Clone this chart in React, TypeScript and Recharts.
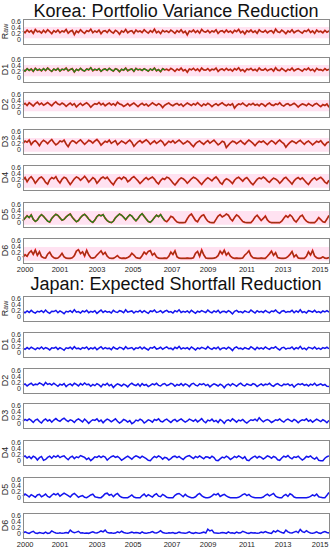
import React from "react";
import { LineChart, Line, XAxis, YAxis, ReferenceArea } from "recharts";

// values are in hundredths (0.28 -> 28)
const koreaRaw = [30,24,33,26,31,22,35,27,29,23,32,25,34,28,21,31,26,33,24,30,27,35,23,29,32,18,30,25,34,27,22,31,28,36,24,30,26,33,21,29,31,25,34,27,23,32,28,19,30,26,35,24,29,31,22,33,27,30,25,34,28,23,31,26,36,24,29,21,32,27,30,25,33,28,22,31,26,34,24,29,17,30,27,33,25,31,23,35,28,26,32,24,30,27,34,22,29,31,25,33,26,30,23,32,28,35,24,29,20,31,27,33,25,30,22,34,28,26,32,24,29,31,23,36,27,25,33,28,21,30,26,34,24,29,32,27,23,31,28,35,25,30,22,33,27,29,24,32,26,30];
const koreaD1 = [28,23,31,25,30,22,32,26,29,24,31,25,33,27,22,30,26,32,23,29,27,33,24,28,31,20,29,25,32,26,23,30,27,34,24,29,26,31,22,28,30,25,32,27,23,31,28,21,29,26,33,24,28,30,22,32,27,29,25,31,27,23,30,26,33,24,28,21,31,27,29,25,32,28,22,30,26,33,24,28,19,30,27,32,25,30,23,33,27,26,31,24,29,27,33,22,28,30,25,32,26,29,23,31,27,34,24,28,21,30,27,32,25,29,23,33,27,26,31,24,28,30,23,34,26,25,32,27,22,29,26,33,24,28,31,27,23,30,27,33,25,29,22,32,27,28,24,31,26,29];
const koreaD2 = [27,32,25,34,29,23,31,36,28,33,26,30,35,29,24,32,37,30,27,33,29,22,28,33,26,31,20,27,32,25,30,34,28,19,26,31,29,35,27,32,24,29,33,27,31,25,36,30,28,22,26,31,24,29,33,27,21,28,32,26,30,23,28,34,29,25,31,27,18,26,30,33,27,24,29,32,26,30,22,28,33,29,25,31,27,34,28,23,30,26,32,28,21,27,31,25,30,34,28,24,29,26,31,16,25,30,28,33,27,23,30,27,32,26,29,24,31,28,22,29,33,27,25,30,28,34,26,23,29,31,25,28,32,27,20,26,30,28,24,31,27,23,29,32,26,21,28,25,30,19];
const koreaD3 = [22,30,26,33,18,27,31,24,14,26,32,28,21,29,35,25,17,22,30,27,33,20,11,24,31,28,22,29,34,26,19,25,32,29,23,30,35,27,16,23,29,26,33,22,27,31,18,24,30,26,21,28,33,25,12,20,27,31,24,29,34,28,19,25,30,22,27,32,26,15,22,29,25,31,23,28,33,27,20,24,30,26,18,11,21,27,30,24,19,26,31,23,28,33,25,17,22,29,26,8,16,24,29,27,21,26,31,24,19,27,33,28,22,14,23,29,26,30,24,18,25,31,27,20,28,33,26,21,9,18,25,30,27,22,28,32,25,19,26,30,24,17,23,29,26,31,22,15,24,27];
const koreaD4 = [20,28,14,25,31,22,9,18,27,30,23,12,6,21,28,24,31,18,10,22,29,26,15,5,14,24,30,27,19,25,32,24,13,20,28,23,9,17,26,30,24,29,20,11,4,16,25,28,22,30,26,14,19,27,31,24,17,8,15,23,28,21,26,30,23,13,7,18,25,22,29,27,19,10,3,12,21,27,24,18,9,16,24,29,26,20,12,5,14,22,27,23,17,25,30,22,11,6,18,24,21,15,8,19,26,29,23,16,24,28,20,10,4,13,22,27,24,30,25,17,12,20,26,23,18,9,16,25,29,21,14,6,17,24,28,22,27,19,11,5,15,23,27,20,25,29,22,13,8,19];
const koreaD5 = [8,16,24,18,27,12,5,10,21,28,22,14,6,3,15,23,29,25,17,9,12,20,26,30,19,11,4,8,18,25,29,22,13,6,2,10,21,27,24,28,16,8,3,1,6,17,24,30,26,19,11,20,27,23,14,7,15,25,31,22,13,5,2,9,18,26,21,28,17,8,4,12,22,19,10,3,1,1,1,2,14,25,30,19,8,4,16,24,27,15,6,2,1,1,12,23,28,20,24,30,26,14,7,18,27,22,13,5,2,1,1,1,9,20,26,17,8,15,23,10,3,1,1,1,1,1,6,16,24,19,27,21,9,3,12,22,26,14,6,2,1,1,1,8,18,11,4,2,13,25];
const koreaD6 = [6,14,9,21,27,15,30,12,24,8,4,3,16,23,10,4,2,3,9,19,7,3,2,2,4,11,26,31,18,24,10,29,14,4,3,5,13,20,27,15,22,9,3,2,2,6,11,4,2,3,2,5,9,19,13,5,3,2,11,23,16,25,28,13,19,7,3,2,2,3,2,9,23,15,27,7,3,2,2,2,3,2,2,4,19,25,9,30,14,3,2,2,2,3,5,11,26,17,29,13,21,9,4,2,3,2,2,3,13,19,27,11,4,3,2,2,3,2,2,9,17,26,12,21,5,3,2,2,3,8,15,25,7,14,3,2,2,2,9,24,13,28,10,4,2,3,7,3,2,5];

const japanRaw = [18,14,20,15,22,16,13,19,17,21,15,23,16,12,19,18,22,14,20,16,11,19,17,21,15,24,16,18,13,20,17,22,14,19,16,21,12,18,23,15,20,16,18,13,22,17,15,21,19,14,24,16,18,20,13,19,17,22,15,21,16,12,20,18,23,15,17,21,14,19,22,16,18,13,21,17,24,15,19,16,20,14,22,17,12,19,16,21,18,15,23,17,14,20,16,22,13,18,19,15,21,17,10,19,22,16,18,14,20,17,15,23,18,13,21,16,19,15,22,17,14,20,18,23,16,12,19,21,15,18,17,22,14,20,16,24,15,18,13,21,19,16,22,15,18,14,20,17,21,16];
const japanD1 = [16,12,18,13,19,15,11,17,14,20,13,18,15,10,17,16,19,12,18,14,9,17,15,19,13,21,14,16,12,18,15,20,12,17,14,19,11,16,21,13,18,14,16,11,20,15,13,19,17,12,21,14,16,18,11,17,15,20,13,19,14,10,18,16,21,13,15,19,12,17,20,14,16,11,19,15,22,13,17,14,18,12,20,15,10,17,14,19,16,13,21,15,12,18,14,20,11,16,17,13,19,15,8,17,20,14,16,12,18,15,13,21,16,11,19,14,17,13,20,15,12,18,16,21,14,10,17,19,13,16,15,20,12,18,14,22,13,16,11,19,17,14,20,13,16,12,18,15,19,14];
const japanD2 = [13,17,10,15,19,12,16,14,20,17,12,22,15,18,13,19,14,9,16,13,18,8,14,17,11,19,15,10,18,13,20,14,16,9,15,11,18,14,7,16,13,19,11,15,5,12,17,14,10,16,13,7,15,19,14,11,17,9,18,12,15,8,12,17,14,19,12,10,16,18,11,14,19,16,9,15,12,18,11,17,14,8,16,19,13,10,17,14,18,11,15,7,13,17,14,10,16,12,4,13,16,11,18,14,9,15,19,13,10,17,14,12,18,15,8,13,17,11,16,14,19,12,9,15,18,13,10,16,14,17,11,15,6,13,17,14,18,12,15,10,16,13,19,11,14,17,12,15,9,8];
const japanD3 = [9,15,11,17,12,5,13,16,8,3,12,17,10,14,6,13,18,12,9,15,19,13,8,14,11,5,13,17,12,7,16,10,2,9,14,12,17,8,13,4,11,16,13,7,12,17,9,3,8,15,12,6,11,1,5,13,10,16,12,3,8,14,11,6,15,12,17,9,7,13,16,10,5,12,15,8,13,17,11,6,10,16,13,9,15,7,12,18,9,4,13,10,16,8,12,5,15,10,2,11,14,9,17,12,6,13,10,15,8,3,9,14,12,16,10,21,13,7,12,15,11,5,9,14,12,17,10,6,13,16,12,8,15,11,4,10,14,12,17,9,13,6,11,16,12,8,14,10,4,12];
const japanD4 = [13,17,10,15,8,16,12,3,11,15,2,5,12,16,9,17,13,18,11,15,17,10,4,12,16,8,14,11,18,15,12,5,10,1,7,14,12,17,11,16,13,3,9,14,17,12,15,10,2,7,12,16,11,6,13,17,14,10,16,12,8,2,1,9,15,11,17,13,6,12,10,3,8,14,16,11,15,9,5,12,16,18,13,8,15,11,17,12,7,14,13,9,16,11,2,1,7,13,10,16,12,5,9,15,11,17,13,8,14,3,1,8,13,16,10,15,12,6,11,17,14,9,15,12,4,2,10,16,13,18,11,7,14,12,16,9,3,8,15,13,17,10,6,12,2,1,1,9,14,17];
const japanD5 = [6,13,9,3,11,7,2,10,12,4,8,13,5,2,9,14,10,15,6,11,16,12,8,3,11,15,9,2,6,8,2,1,5,10,13,4,2,1,1,7,14,16,9,12,4,11,15,7,2,1,1,1,5,10,3,1,1,1,8,13,5,11,7,3,10,14,6,4,12,8,2,1,1,1,9,13,15,10,4,12,6,3,1,1,4,11,15,8,3,1,1,2,7,13,10,15,5,9,12,7,3,1,1,1,1,2,6,11,14,8,12,5,2,1,1,1,1,3,9,13,7,11,15,6,2,1,1,8,12,5,14,10,3,1,1,1,1,1,1,2,5,10,7,13,4,2,1,1,9,18];
const japanD6 = [3,7,4,2,6,9,3,2,5,3,2,6,2,3,10,6,3,2,4,2,3,5,3,13,7,4,6,9,3,4,2,3,2,5,7,4,3,6,10,7,13,5,3,4,2,3,7,4,9,5,3,2,4,6,3,5,4,2,7,3,2,4,5,8,4,3,6,11,5,3,2,4,3,5,2,3,6,4,3,2,4,7,3,2,5,3,2,4,6,3,16,10,13,4,3,2,3,5,4,2,7,3,4,2,6,3,4,9,6,3,2,5,3,4,2,3,6,4,8,5,3,2,10,6,12,8,5,3,13,7,4,3,6,9,4,15,8,5,11,6,3,2,4,7,3,2,6,8,5,3];

const panelNames = ["Raw", "D1", "D2", "D3", "D4", "D5", "D6"];
const koreaSeries = [koreaRaw, koreaD1, koreaD2, koreaD3, koreaD4, koreaD5, koreaD6];
const japanSeries = [japanRaw, japanD1, japanD2, japanD3, japanD4, japanD5, japanD6];
const koreaGreen = [false, true, false, false, false, true, false];

const yTicks = [0, 0.2, 0.4, 0.6];
const xTickPos = [0.007, 0.121, 0.242, 0.36, 0.487, 0.605, 0.732, 0.85, 0.971];
const xTickLabels = ["2000", "2001", "2003", "2005", "2007", "2009", "2011", "2013", "2015"];

const koreaTops = [19, 57, 92, 129, 165, 202, 238];
const japanTops = [296, 332, 368, 403, 440, 477, 513];

const FONT = "'Liberation Sans', Arial, Helvetica, sans-serif";
const BOX_H = 25;
const PAD = 5;

function YName({ name }: { name: string }) {
  if (name === "Raw") {
    return (
      <span>
        R<span style={{ fontSize: 7 }}>aw</span>
      </span>
    );
  }
  return <span>{name}</span>;
}

function Panel({
  top,
  name,
  values,
  korea,
  green,
  last,
}: {
  top: number;
  name: string;
  values: number[];
  korea: boolean;
  green: boolean;
  last: boolean;
}) {
  const n = values.length;
  const data = values.map((v, i) => ({
    x: i / (n - 1),
    v: v / 100,
    g: green && i / (n - 1) <= 0.465 ? v / 100 : null,
  }));
  const xH = last ? 14 : 0;
  const upper = name === "Raw" || name === "D1" || name === "D2";
  return (
    <>
      <div style={{ position: "absolute", left: 0, top: top - PAD }}>
        <LineChart
          width={334}
          height={BOX_H + PAD + (last ? xH : PAD)}
          data={data}
          margin={{ top: PAD, right: 5, bottom: last ? 0 : PAD, left: 0 }}
        >
          <XAxis
            type="number"
            dataKey="x"
            domain={[0, 1]}
            ticks={xTickPos}
            tickFormatter={(_v: number, i: number) => xTickLabels[i]}
            hide={!last}
            axisLine={false}
            tickLine={false}
            tickSize={2}
            height={xH}
            interval={0}
            tick={{ fontSize: 7.5, fill: "#262626", fontFamily: FONT }}
          />
          <YAxis
            type="number"
            domain={[-0.135, 0.7]}
            ticks={yTicks}
            width={23}
            axisLine={false}
            tickLine={false}
            tickSize={2}
            tickMargin={0}
            interval={0}
            tickFormatter={(v: number) => (v === 0 ? "0" : v.toFixed(1))}
            tick={{ fontSize: 7, fill: "#262626", fontFamily: FONT }}
          />
          {korea && (
            <ReferenceArea
              x1={0}
              x2={1}
              y1={upper ? 0.06 : -0.06}
              y2={upper ? 0.43 : 0.4}
              fill="#ffe2f1"
              fillOpacity={1}
              stroke="none"
            />
          )}
          {korea ? (
            <Line
              type="linear"
              dataKey="v"
              stroke="#ee1d1d"
              strokeWidth={1.7}
              dot={false}
              isAnimationActive={false}
            />
          ) : (
            <Line
              type="linear"
              dataKey="v"
              stroke="#1414ee"
              strokeWidth={1.5}
              dot={false}
              isAnimationActive={false}
            />
          )}
          {korea && (
            <Line
              type="linear"
              dataKey="v"
              stroke="#7a4214"
              strokeWidth={0.9}
              dot={false}
              isAnimationActive={false}
            />
          )}
          {korea && green && (
            <Line
              type="linear"
              dataKey="g"
              stroke="#1f8a1f"
              strokeWidth={1.2}
              dot={false}
              connectNulls={false}
              isAnimationActive={false}
            />
          )}
        </LineChart>
      </div>
      <div
        style={{
          position: "absolute",
          left: 23,
          top,
          width: 305,
          height: BOX_H - 1,
          border: "1px solid #8a8a8a",
          pointerEvents: "none",
        }}
      />
      <div
        style={{
          position: "absolute",
          left: 5 - 15,
          top: top + BOX_H / 2 - 4.5,
          width: 30,
          height: 9,
          lineHeight: "9px",
          textAlign: "center",
          fontSize: 9,
          color: "#262626",
          transform: "rotate(-90deg)",
        }}
      >
        <YName name={name} />
      </div>
    </>
  );
}

export default function App() {
  return (
    <div
      style={{
        position: "absolute",
        left: 0,
        top: 0,
        width: 334,
        height: 550,
        background: "#fff",
        fontFamily: FONT,
        overflow: "hidden",
      }}
    >
      <div
        style={{
          position: "absolute",
          left: 0,
          top: 2,
          width: 352,
          textAlign: "center",
          fontSize: 18,
          lineHeight: "18px",
          color: "#111",
        }}
      >
        Korea: Portfolio Variance Reduction
      </div>
      {panelNames.map((nm, i) => (
        <Panel
          key={"k" + nm}
          top={koreaTops[i]}
          name={nm}
          values={koreaSeries[i]}
          korea
          green={koreaGreen[i]}
          last={i === panelNames.length - 1}
        />
      ))}
      <div
        style={{
          position: "absolute",
          left: 0,
          top: 275,
          width: 352,
          textAlign: "center",
          fontSize: 18,
          lineHeight: "18px",
          color: "#111",
        }}
      >
        Japan: Expected Shortfall Reduction
      </div>
      {panelNames.map((nm, i) => (
        <Panel
          key={"j" + nm}
          top={japanTops[i]}
          name={nm}
          values={japanSeries[i]}
          korea={false}
          green={false}
          last={i === panelNames.length - 1}
        />
      ))}
    </div>
  );
}
